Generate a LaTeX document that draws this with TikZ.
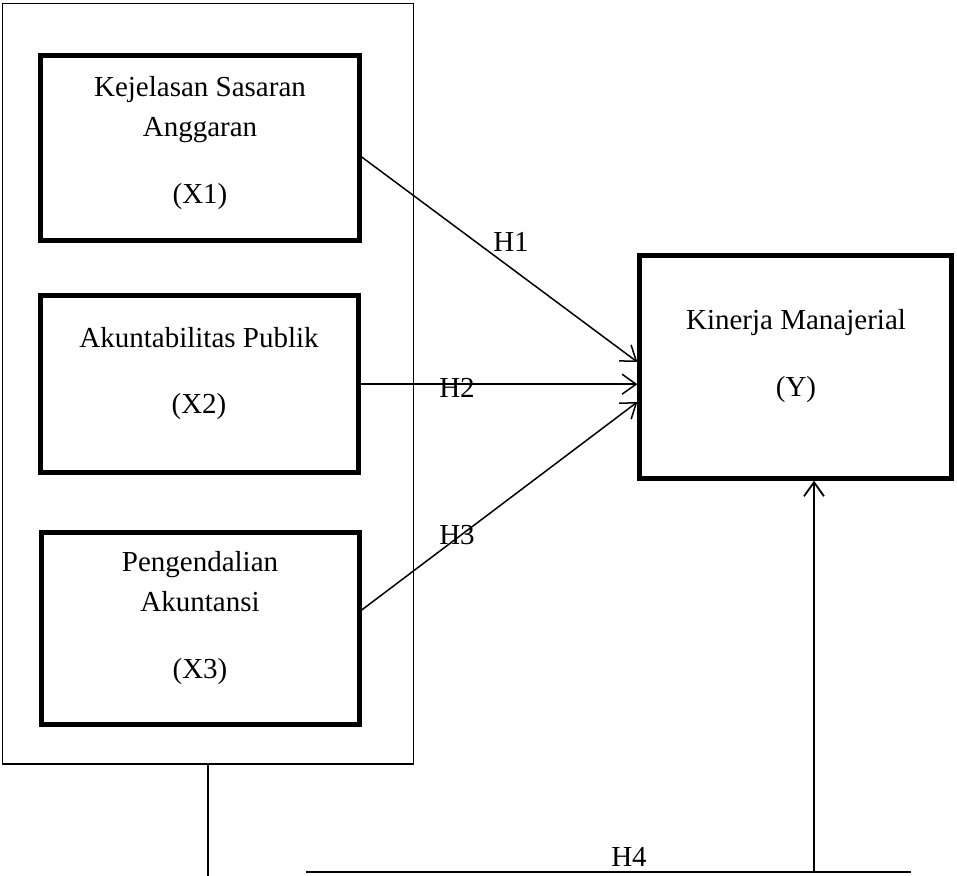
\documentclass[tikz,border=0pt]{standalone}
\usepackage{fontspec}
\setmainfont{Liberation Serif}
\usetikzlibrary{arrows.meta}
\begin{document}
\begin{tikzpicture}[x=0.5pt,y=-0.5pt,
  outerbox/.style={draw, line width=0.65pt, inner sep=0pt},
  box/.style={draw, line width=2.5pt, inner sep=0pt},
  txt/.style={anchor=base, font=\fontsize{14.5}{17}\selectfont, inner sep=0pt},
  arr/.style={line width=0.75pt, -{Straight Barb[length=7pt,width=10pt]}},
  plain/.style={line width=0.9pt}]
\useasboundingbox (0,0) rectangle (957,876);

% frame around the independent variables
\node[outerbox, minimum width=205.3pt, minimum height=380.4pt] (G) at (208,383.7) {};

% boxes
\node[box, minimum width=159.2pt, minimum height=92.5pt] (X1) at (200,148.3) {};
\node[box, minimum width=158.7pt, minimum height=88.35pt] (X2) at (199.5,384.2) {};
\node[box, minimum width=158.7pt, minimum height=95.85pt] (X3) at (200.5,628.3) {};
\node[box, minimum width=155.85pt, minimum height=111.5pt] (Y) at (795.7,366.7) {};

% texts
\node[txt] (t1a) at (200,96.7) {Kejelasan Sasaran};
\node[txt] (t1b) at (200,136.7) {Anggaran};
\node[txt] (t1c) at (200,204) {(X1)};
\node[txt] (t2a) at (199,347.3) {Akuntabilitas Publik};
\node[txt] (t2b) at (199,414) {(X2)};
\node[txt] (t3a) at (200,571.7) {Pengendalian};
\node[txt] (t3b) at (200,611) {Akuntansi};
\node[txt] (t3c) at (200,678) {(X3)};
\node[txt] (tya) at (796,330) {Kinerja Manajerial};
\node[txt] (tyb) at (796,396.7) {(Y)};

% arrows
\draw[arr] ([yshift=-4.35pt]X1.east) -- ([yshift=2.35pt]Y.west);
\draw[arr] (X2.east) -- (X2.east -| Y.west);
\draw[arr] ([yshift=9.15pt]X3.east) -- ([yshift=-17.65pt]Y.west);

% hypothesis labels
\node[txt] (h1) at (511,251.7) {H1};
\node[txt] (h2) at (457,397.7) {H2};
\node[txt] (h3) at (457,544) {H3};
\node[txt] (h4) at (629,866) {H4};

% bottom connection
\coordinate (gb) at (208,876);
\draw[plain] (G.south) -- (gb);
\coordinate (hl) at (306,872);
\coordinate (hr) at (911,872);
\draw[line width=1.35pt] (hl) -- (hr);
\coordinate (hv) at (814,872);
\draw[arr, line width=0.9pt] (hv) -- ([xshift=9.15pt]Y.south);
\end{tikzpicture}
\end{document}
